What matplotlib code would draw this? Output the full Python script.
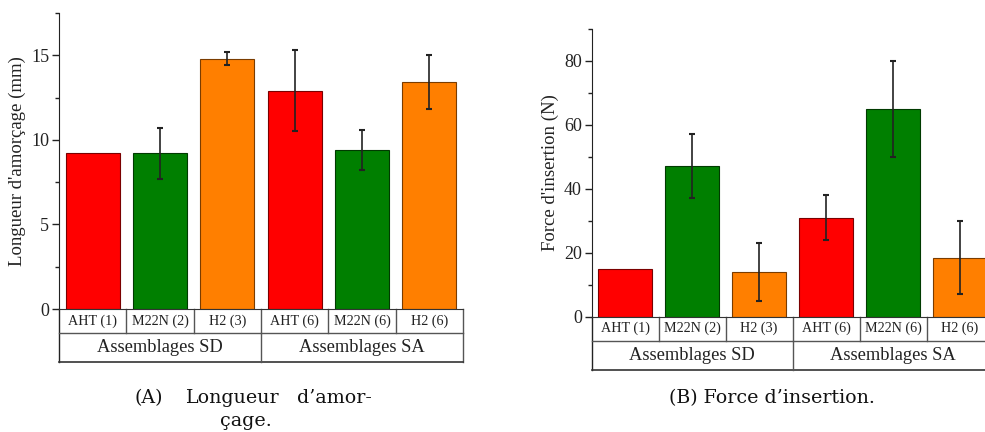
import matplotlib
matplotlib.use("Agg")
import matplotlib.pyplot as plt
from matplotlib.ticker import MultipleLocator
import matplotlib.transforms as mtransforms

plt.rcParams['font.family'] = ['Liberation Serif', 'DejaVu Serif']

# data
categories = ["AHT (1)", "M22N (2)", "H2 (3)", "AHT (6)", "M22N (6)", "H2 (6)"]
groups = ["Assemblages SD", "Assemblages SA"]
colors = ["#ff0000", "#007f00", "#ff7f00", "#ff0000", "#007f00", "#ff7f00"]
edge_colors = ["#7a0000", "#003a00", "#7a3c00", "#7a0000", "#003a00", "#7a3c00"]

longueur = [9.2, 9.2, 14.8, 12.9, 9.4, 13.4]
longueur_err = [0, 1.5, 0.4, 2.4, 1.2, 1.6]

force = [15.0, 47.0, 14.0, 31.0, 65.0, 18.5]
force_err = [0, 10.0, 9.0, 7.0, 15.0, 11.5]

W, H = 985, 432
fig = plt.figure(figsize=(W / 100, H / 100), dpi=100)


def draw_panel(rect_px, values, errs, ylim, major, minor, ylabel):
    x0, y_top, x1, y_zero = rect_px
    ax = fig.add_axes([x0 / W, (H - y_zero) / H, (x1 - x0) / W, (y_zero - y_top) / H])
    n = len(values)
    xs = list(range(n))
    for i in xs:
        ax.bar(i, values[i], width=0.8, color=colors[i], edgecolor=edge_colors[i],
               linewidth=0.8, zorder=2)
        if errs[i] > 0:
            ax.errorbar(i, values[i], yerr=errs[i], fmt="none", ecolor="#222222",
                        elinewidth=1.2, capsize=2.5, capthick=1.5, zorder=3)
    ax.set_xlim(-0.5, n - 0.5)
    ax.set_ylim(*ylim)
    ax.yaxis.set_major_locator(MultipleLocator(major))
    ax.yaxis.set_minor_locator(MultipleLocator(minor))
    ax.tick_params(axis="y", which="major", direction="out", length=5, width=1,
                   labelsize=13, pad=2, colors="#222222")
    ax.tick_params(axis="y", which="minor", direction="out", length=3, width=1,
                   colors="#222222")
    ax.set_xticks([])
    for s in ["top", "right"]:
        ax.spines[s].set_visible(False)
    ax.spines["left"].set_color("#222222")
    ax.spines["bottom"].set_color("#333333")
    ax.set_ylabel(ylabel, fontsize=13.5, labelpad=4, color="#222222")

    # table under the bars, row heights in pixels
    ax_h = y_zero - y_top
    r1 = -24 / ax_h
    r2 = -53 / ax_h
    trans = mtransforms.blended_transform_factory(ax.transData, ax.transAxes)
    lkw = dict(transform=trans, clip_on=False, color="#555555", linewidth=1)
    left, right = -0.5, n - 0.5
    ax.plot([left, left], [0, r2], color="#222222", linewidth=1, transform=trans, clip_on=False)
    ax.plot([right, right], [0, r2], **lkw)
    ax.plot([left, right], [r1, r1], **lkw)
    ax.plot([left, right], [r2, r2], color="#333333", linewidth=1.2,
            transform=trans, clip_on=False)
    for i in range(1, n):
        ax.plot([i - 0.5, i - 0.5], [0, r1], **lkw)
    ax.plot([n / 2 - 0.5, n / 2 - 0.5], [r1, r2], **lkw)
    for i, c in enumerate(categories):
        ax.text(i, r1 / 2, c, transform=trans, ha="center", va="center",
                fontsize=10.2, color="#222222")
    per = n // len(groups)
    for g, name in enumerate(groups):
        ax.text(g * per + (per - 1) / 2, (r1 + r2) / 2, name, transform=trans,
                ha="center", va="center", fontsize=13.3, color="#222222")
    return ax


draw_panel((59, 13, 463, 309), longueur, longueur_err, (0, 17.5), 5, 2.5,
           "Longueur d'amorçage (mm)")
draw_panel((591.7, 29, 993.5, 316.7), force, force_err, (0, 90), 20, 10,
           "Force d'insertion (N)")

cap_kw = dict(fontsize=13.7, family=["DejaVu Serif"], va="baseline", ha="center",
              color="#111111")
# justified first caption line, pieces placed like in the source
fig.text(148.5 / W, 1 - 403 / H, "(A)", **cap_kw)
fig.text(232 / W, 1 - 403 / H, "Longueur", **cap_kw)
fig.text(334 / W, 1 - 403 / H, "d’amor-", **cap_kw)
fig.text(246 / W, 1 - 426 / H, "çage.", **cap_kw)
fig.text(771.5 / W, 1 - 403 / H, "(B) Force d’insertion.", **cap_kw)

fig.savefig("out.png", dpi=100)
